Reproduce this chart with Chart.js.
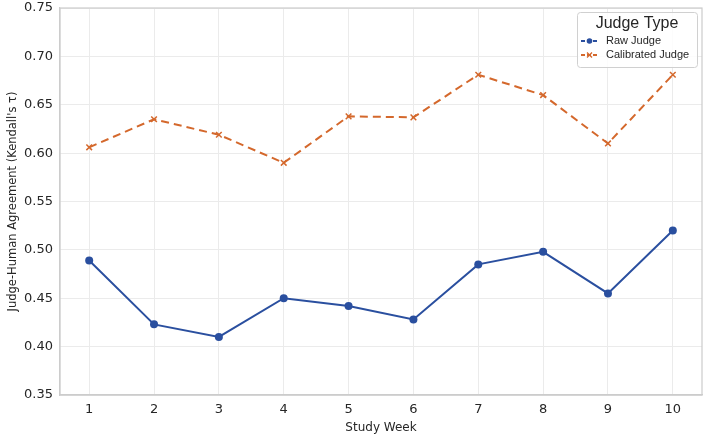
<!DOCTYPE html>
<html>
<head>
<meta charset="utf-8">
<script src="https://cdn.jsdelivr.net/npm/chart.js@4.4.0/dist/chart.umd.min.js"></script>
<style>
html,body{margin:0;padding:0;background:#fff;}
#wrap{width:706px;height:437px;position:relative;}
</style>
</head>
<body>
<div id="wrap"><canvas id="c" width="706" height="437"></canvas></div>
<script>
const weeks = [1,2,3,4,5,6,7,8,9,10];
const rawJudge = [0.489,0.423,0.410,0.450,0.442,0.428,0.485,0.498,0.455,0.520];
const calibratedJudge = [0.606,0.635,0.619,0.590,0.638,0.637,0.681,0.660,0.610,0.681];
const yTicks = [0.35,0.40,0.45,0.50,0.55,0.60,0.65,0.70,0.75];
const seriesNames = ['Raw Judge','Calibrated Judge'];
const legendTitle = 'Judge Type';
const xTitle = 'Study Week';
const yTitle = "Judge-Human Agreement (Kendall's τ)";

const BLUE = '#2a4f9f';
const ORANGE = '#d4682c';

const framePlugin = {
  id: 'frame',
  beforeDatasetsDraw(chart) {
    const { ctx, chartArea: a } = chart;
    ctx.save();
    ctx.strokeStyle = '#cccccc';
    ctx.lineWidth = 1.2;
    ctx.strokeRect(a.left, a.top, a.right - a.left, a.bottom - a.top);
    ctx.restore();
  }
};

const legendPlugin = {
  id: 'insideLegend',
  afterDraw(chart) {
    const ctx = chart.ctx;
    const x0 = 577, y0 = 12, w = 120, h = 55;
    ctx.save();
    ctx.fillStyle = 'rgba(255,255,255,0.85)';
    ctx.strokeStyle = '#d0d0d0';
    ctx.lineWidth = 1;
    ctx.beginPath();
    if (ctx.roundRect) ctx.roundRect(x0+0.5, y0+0.5, w, h, 3); else ctx.rect(x0+0.5, y0+0.5, w, h);
    ctx.fill(); ctx.stroke();
    ctx.fillStyle = '#262626';
    ctx.font = '16px "Liberation Sans", "DejaVu Sans", sans-serif';
    ctx.textAlign = 'center'; ctx.textBaseline = 'middle';
    ctx.fillText(legendTitle, x0 + w/2, y0 + 12);
    chart.data.datasets.forEach((ds, i) => {
      const yy = y0 + 29 + i*14;
      ctx.strokeStyle = ds.borderColor;
      ctx.lineWidth = 1.8;
      ctx.setLineDash([4,2]);
      ctx.beginPath(); ctx.moveTo(x0+4, yy); ctx.lineTo(x0+21, yy); ctx.stroke();
      ctx.setLineDash([]);
      if (ds.pointStyle === 'circle') {
        ctx.fillStyle = ds.borderColor;
        ctx.beginPath(); ctx.arc(x0+12.5, yy, 2.8, 0, Math.PI*2); ctx.fill();
      } else {
        ctx.lineWidth = 1.3;
        ctx.beginPath();
        ctx.moveTo(x0+10, yy-2.5); ctx.lineTo(x0+15, yy+2.5);
        ctx.moveTo(x0+15, yy-2.5); ctx.lineTo(x0+10, yy+2.5);
        ctx.stroke();
      }
      ctx.fillStyle = '#262626';
      ctx.font = '11px "Liberation Sans", "DejaVu Sans", sans-serif';
      ctx.textAlign = 'left';
      ctx.fillText(ds.label, x0 + 29, yy);
    });
    ctx.restore();
  }
};

new Chart(document.getElementById('c'), {
  type: 'line',
  data: {
    datasets: [
      {
        label: seriesNames[0],
        data: weeks.map((w,i)=>({x:w, y:rawJudge[i]})),
        borderColor: BLUE, backgroundColor: BLUE,
        borderWidth: 2, pointStyle: 'circle', pointRadius: 4,
        pointBorderColor: BLUE, pointBackgroundColor: BLUE, pointBorderWidth: 0,
        tension: 0, borderDash: []
      },
      {
        label: seriesNames[1],
        data: weeks.map((w,i)=>({x:w, y:calibratedJudge[i]})),
        borderColor: ORANGE, backgroundColor: ORANGE,
        borderWidth: 2, pointStyle: 'crossRot', pointRadius: 4,
        pointBorderColor: ORANGE, pointBorderWidth: 1.5,
        tension: 0, borderDash: [8,5]
      }
    ]
  },
  options: {
    responsive: false,
    animation: false,
    layout: { autoPadding: false, padding: { left: 6, right: 4, top: 8, bottom: 0 } },
    plugins: { legend: { display: false }, tooltip: { enabled: false } },
    scales: {
      x: {
        type: 'linear', min: 0.55, max: 10.45,
        afterBuildTicks(axis) { axis.ticks = weeks.map(v=>({value:v})); },
        ticks: { color: '#262626', font: { family: '"DejaVu Sans"', size: 13 }, padding: 7,
                 callback: v => String(v) },
        grid: { color: '#ebebeb', lineWidth: 1, drawTicks: false },
        border: { color: '#cccccc', width: 1.2 },
        title: { display: true, text: xTitle, color: '#262626',
                 font: { family: '"DejaVu Sans"', size: 12 }, padding: { top: 2, bottom: 2 } },
        afterFit(axis) { axis.height = 42; axis.paddingLeft = 0; axis.paddingRight = 0; }
      },
      y: {
        min: 0.35, max: 0.75,
        afterBuildTicks(axis) { axis.ticks = yTicks.map(v=>({value:v})); },
        ticks: { color: '#262626', font: { family: '"DejaVu Sans"', size: 13 }, padding: 7,
                 callback: v => v.toFixed(2) },
        grid: { color: '#ebebeb', lineWidth: 1, drawTicks: false },
        border: { color: '#cccccc', width: 1.2 },
        title: { display: true, text: yTitle, color: '#262626',
                 font: { family: '"DejaVu Sans"', size: 11.5 }, padding: { top: 0, bottom: 0 } },
        afterFit(axis) { axis.width = 54; axis.paddingTop = 0; axis.paddingBottom = 0; }
      }
    }
  },
  plugins: [framePlugin, legendPlugin]
});
</script>
</body>
</html>
